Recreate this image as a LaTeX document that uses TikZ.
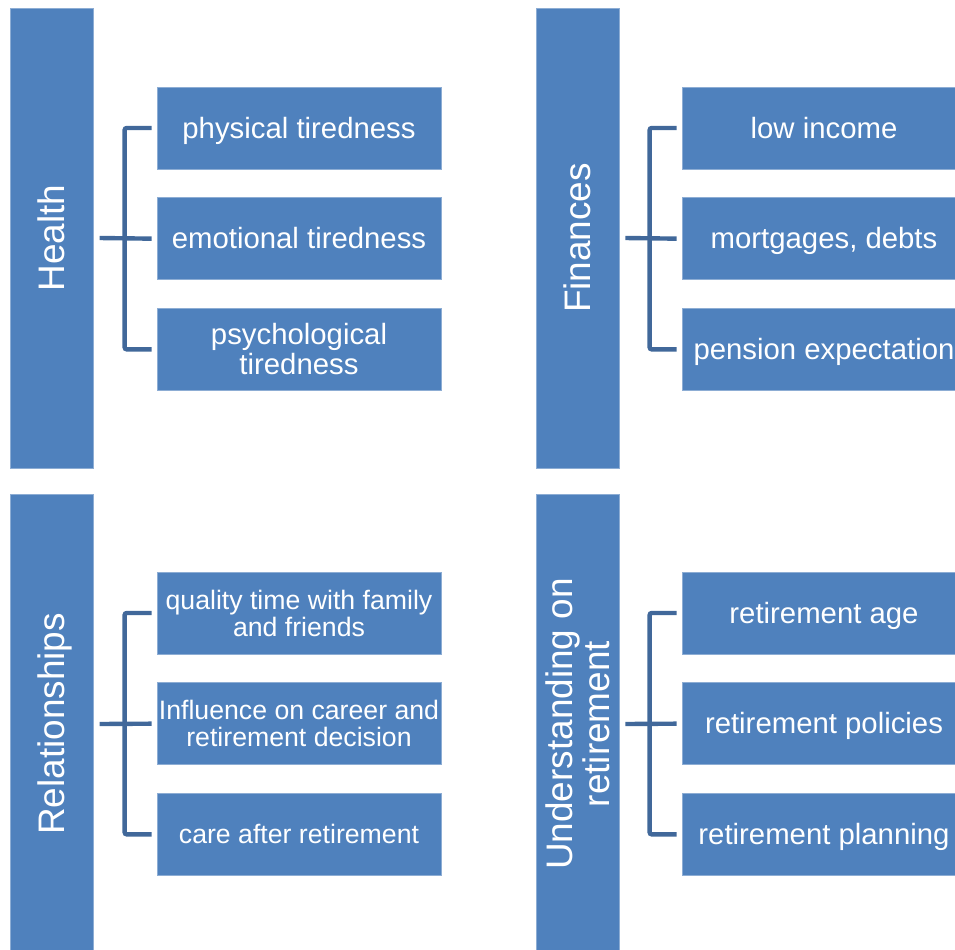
\documentclass[tikz,border=0pt]{standalone}
\usepackage{fontspec}
\setmainfont{Liberation Sans}
\usetikzlibrary{positioning}
\definecolor{barblue}{HTML}{4F81BD}
\definecolor{linkblue}{HTML}{41689A}

\begin{document}
\begin{tikzpicture}[x=0.75pt,y=-0.75pt,node distance=21pt,
  cat/.style={rectangle,fill=barblue,draw=barblue!65!white,line width=0.5pt,
              minimum width=345pt,minimum height=62.25pt,inner sep=0pt,
              rotate=90,align=center,text=white,font=\fontsize{27.7}{28}\selectfont},
  item/.style={rectangle,fill=barblue,draw=barblue!65!white,line width=0.5pt,
               minimum width=213pt,minimum height=61.5pt,inner xsep=0pt,inner ysep=1pt,
               align=center,text=white,font=\fontsize{22}{22.5}\selectfont},
  small/.style={font=\fontsize{20}{20.25}\selectfont},
  % single lines sit on a full ascender/descender box
  oneline/.style={text height=19.9pt,text depth=4.7pt},
  onesmall/.style={small,text height=18.1pt,text depth=4.2pt},
  catline/.style={text height=25pt,text depth=5.9pt},
  link/.style={draw=linkblue,line width=3.3pt,rounded corners=1.5pt}]
\clip (0,0) rectangle (955,949);
% category bars
\node[cat,catline] (health) at (51.75,238) {Health};
\node[cat,catline] (fin)    at (577.5,238) {Finances};
\node[cat,catline] (rel)    at (51.75,724) {Relationships};
\node[cat] (und)    at (577.5,724) {Understanding on\\retirement};
% Health
\node[item,oneline] (h1) at (299,128) {physical tiredness};
\node[item,oneline,below=of h1] (h2) {emotional tiredness};
\node[item,below=of h2] (h3) {psychological\\tiredness};
% Finances
\node[item,oneline] (f1) at (824,128) {low income};
\node[item,oneline,below=of f1] (f2) {mortgages, debts};
\node[item,oneline,below=of f2] (f3) {pension expectation};
% Relationships
\node[item,small] (r1) at (299,613) {quality time with family\\and friends};
\node[item,small,below=of r1] (r2) {Influence on career and\\retirement decision};
\node[item,onesmall,below=of r2] (r3) {care after retirement};
% Understanding on retirement
\node[item,oneline] (u1) at (824,613) {retirement age};
\node[item,oneline,below=of u1] (u2) {retirement policies};
\node[item,oneline,below=of u2] (u3) {retirement planning};
% brackets
\foreach \bar/\a/\b/\c in {health/h1/h2/h3,fin/f1/f2/f3,rel/r1/r2/r3,und/u1/u2/u3}{
  \draw[link] ([xshift=-3.75pt]\a.west) -- ++(-20.25pt,0) |- ([xshift=-3.75pt]\c.west);
  \draw[link] ([xshift=4.5pt]\bar.south) -- ([xshift=-3.75pt]\b.west);
}
\end{tikzpicture}
\end{document}
